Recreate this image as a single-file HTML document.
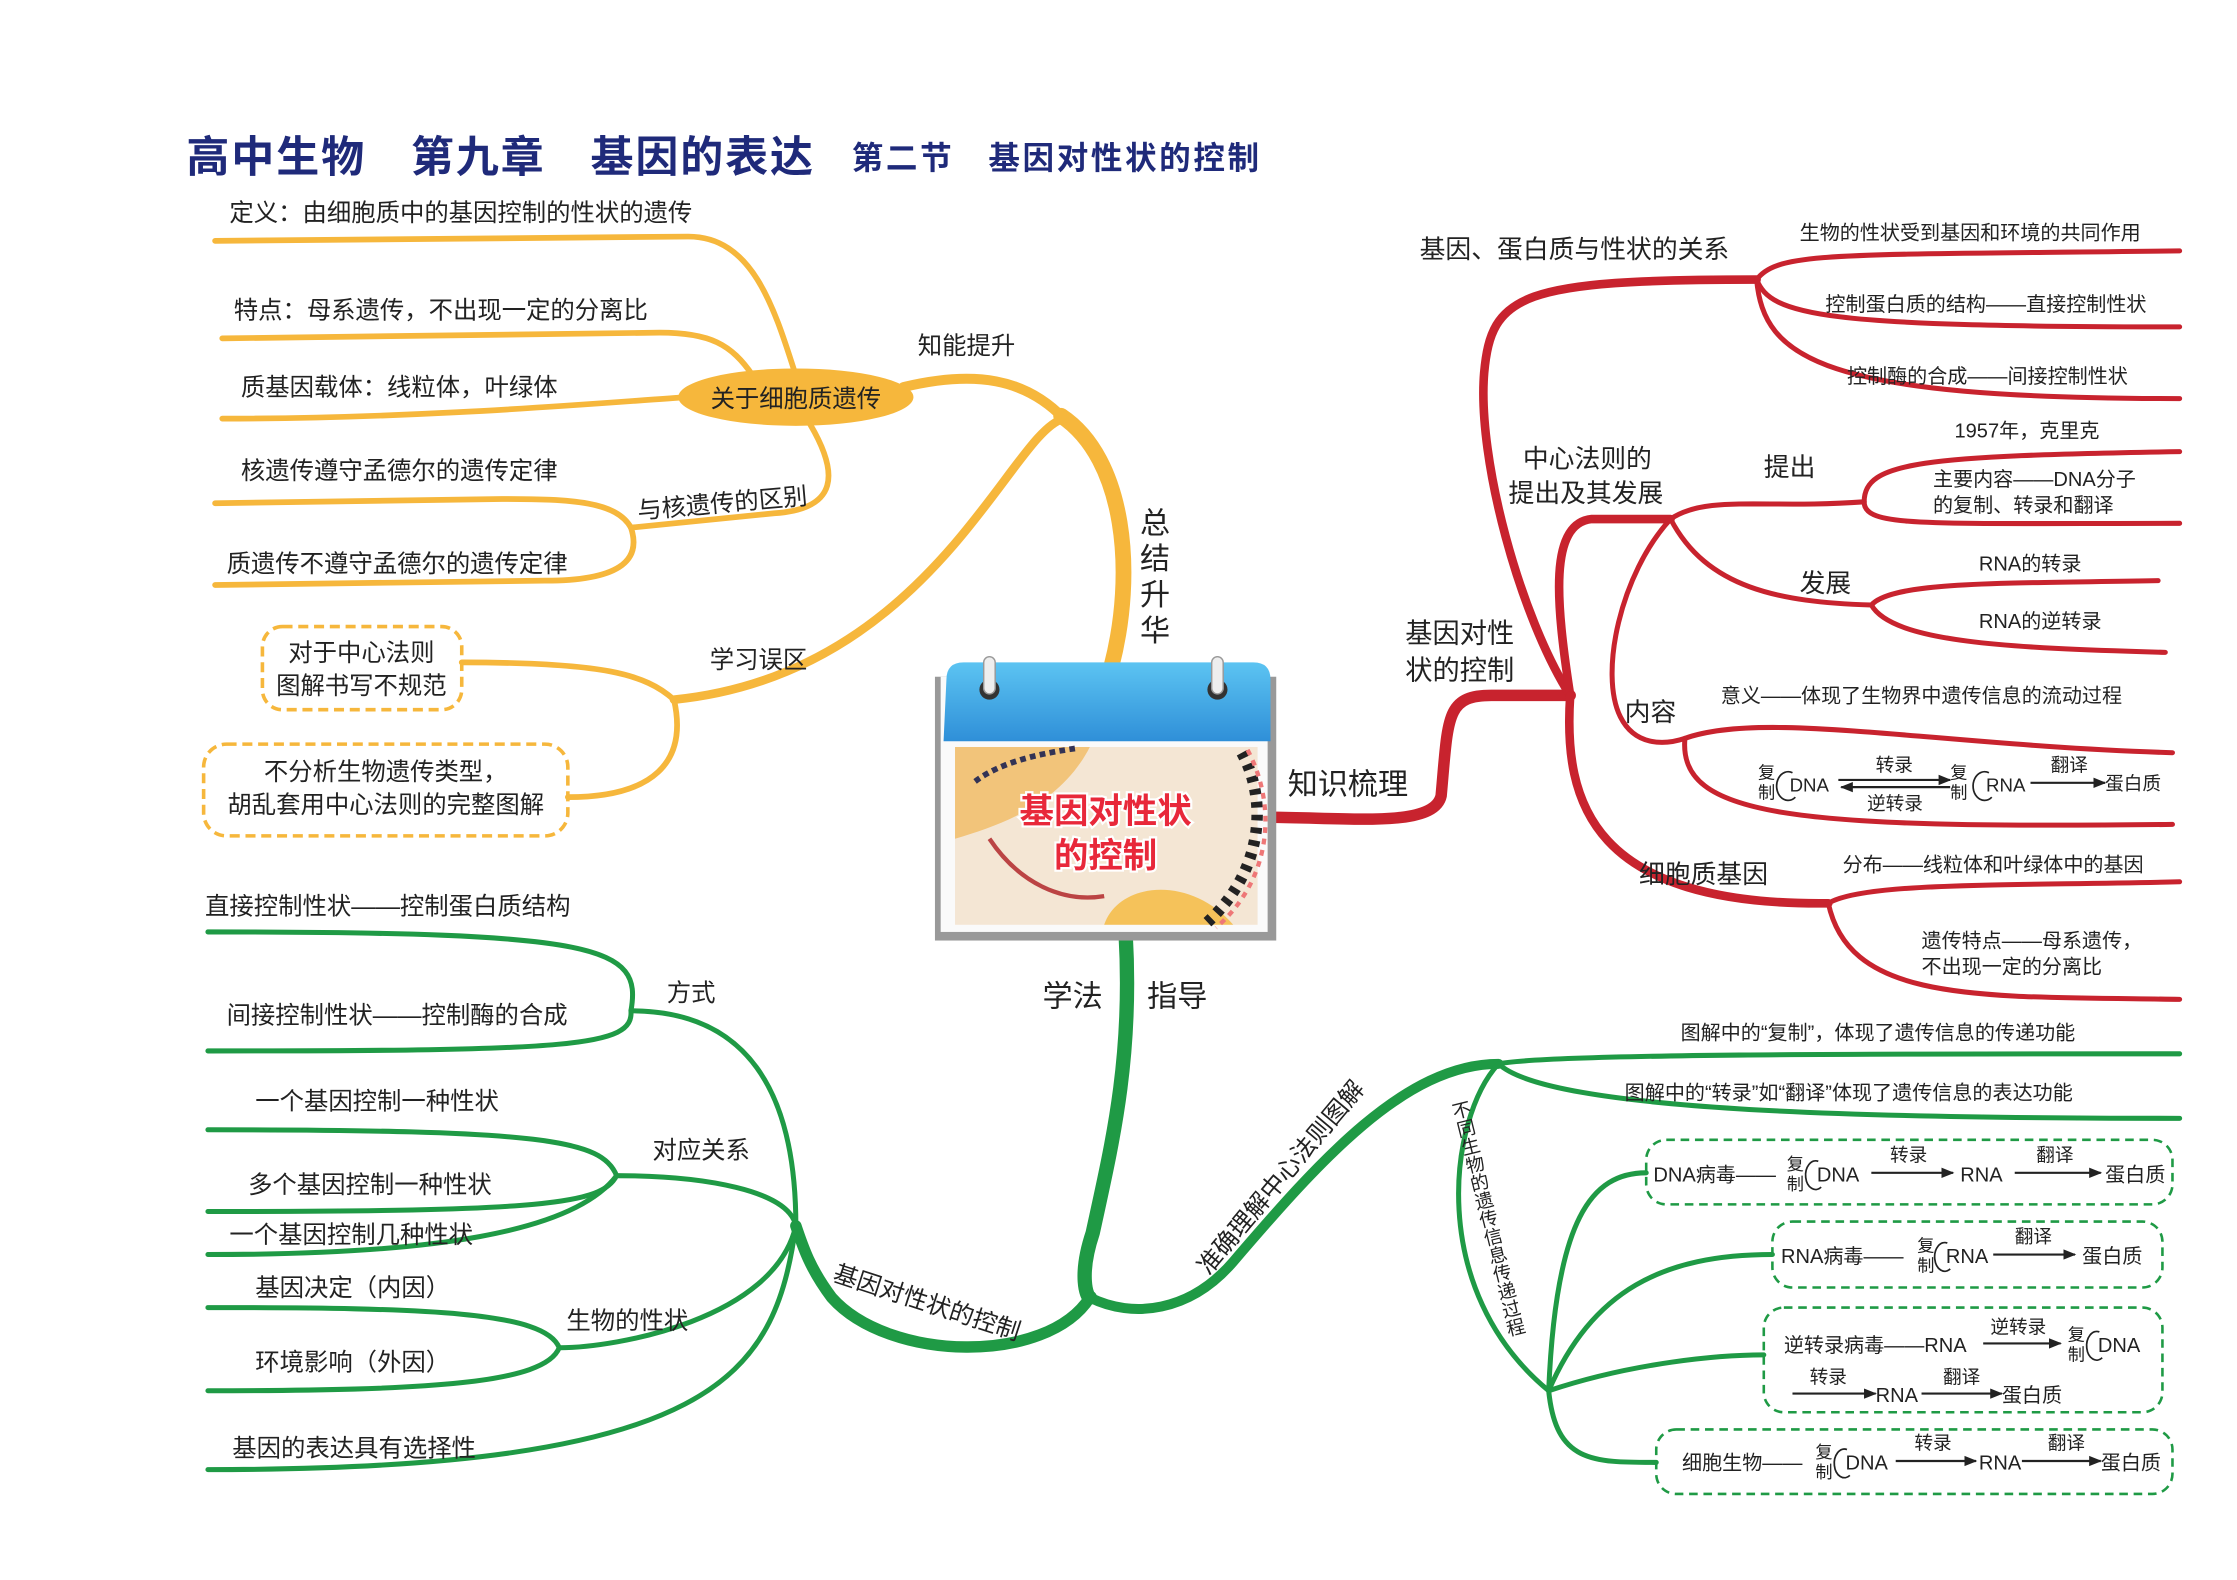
<!DOCTYPE html>
<html><head><meta charset="utf-8"><style>
html,body{margin:0;padding:0;background:#fff;}
svg{display:block}
text{font-family:"Liberation Sans","Noto Sans CJK SC",sans-serif;fill:#222;}
.t{font-size:17px}
.r{font-size:14px}
.s{font-size:12px}
.b{font-size:19px}
</style></head><body>
<svg width="2237" height="1580" viewBox="0 0 1560 1102" preserveAspectRatio="none" xmlns="http://www.w3.org/2000/svg">
<defs>
<marker id="ar" viewBox="0 0 10 10" refX="9" refY="5" markerWidth="6" markerHeight="6" orient="auto"><path d="M0,1 L10,5 L0,9 z" fill="#222"/></marker>
<linearGradient id="blue" x1="0" y1="0" x2="0" y2="1"><stop offset="0" stop-color="#5cc4f2"/><stop offset="1" stop-color="#2f8fd8"/></linearGradient>
</defs>
<rect width="1560" height="1102" fill="#fff"/>

<!-- Title -->
<text x="130" y="120" textLength="437" lengthAdjust="spacing" style="font-size:30px;font-weight:bold;fill:#1f2a7a">高中生物　第九章　基因的表达</text>
<text x="594" y="118" textLength="284" lengthAdjust="spacing" style="font-size:22px;font-weight:bold;fill:#1f2a7a">第二节　基因对性状的控制</text>

<!-- ORANGE -->
<g fill="none" stroke="#f6b73c" stroke-linecap="round">
<path d="M775,465 C792,400 785,320 740,290" stroke-width="11"/>
<path d="M742,292 C715,264 680,258 630,270" stroke-width="7"/>
<path d="M742,292 C705,300 650,470 470,488" stroke-width="6"/>
<path d="M555,262 C540,215 525,165 480,165 L150,168" stroke-width="4"/>
<path d="M525,262 C510,240 495,232 460,232 L155,236" stroke-width="4"/>
<path d="M480,277 C430,280 300,292 155,292" stroke-width="4"/>
<path d="M565,296 C585,330 585,355 540,358 L440,368" stroke-width="4"/>
<path d="M440,368 C430,350 400,348 350,348 L150,351" stroke-width="4"/>
<path d="M440,368 C448,392 430,405 380,405 L150,408" stroke-width="4"/>
<path d="M470,488 C450,470 420,462 322,462" stroke-width="4"/>
<path d="M470,488 C480,532 455,556 396,556" stroke-width="4"/>
</g>
<ellipse cx="555" cy="277" rx="82" ry="20" fill="#f6b73c"/>
<text x="555" y="284" class="t" text-anchor="middle">关于细胞质遗传</text>
<text x="640" y="247" class="t">知能提升</text>
<g class="b" style="font-size:21px"><text x="795" y="372">总</text><text x="795" y="397">结</text><text x="795" y="422">升</text><text x="795" y="447">华</text></g>
<text x="160" y="154" class="t">定义：由细胞质中的基因控制的性状的遗传</text>
<text x="163" y="222" class="t">特点：母系遗传，不出现一定的分离比</text>
<text x="168" y="276" class="t">质基因载体：线粒体，叶绿体</text>
<text x="168" y="334" class="t">核遗传遵守孟德尔的遗传定律</text>
<text x="158" y="399" class="t">质遗传不遵守孟德尔的遗传定律</text>
<text x="445" y="362" class="t" transform="rotate(-5 445 362)">与核遗传的区别</text>
<text x="495" y="466" class="t">学习误区</text>
<rect x="183" y="437" width="139" height="58" rx="14" fill="none" stroke="#f6b73c" stroke-width="2.5" stroke-dasharray="7,4"/>
<text x="252" y="461" class="t" text-anchor="middle">对于中心法则</text>
<text x="252" y="484" class="t" text-anchor="middle">图解书写不规范</text>
<rect x="142" y="519" width="254" height="64" rx="16" fill="none" stroke="#f6b73c" stroke-width="2.5" stroke-dasharray="7,4"/>
<text x="269" y="544" class="t" text-anchor="middle">不分析生物遗传类型，</text>
<text x="269" y="567" class="t" text-anchor="middle">胡乱套用中心法则的完整图解</text>

<!-- RED -->
<g fill="none" stroke="#c8232e" stroke-linecap="round">
<path d="M880,570 C940,570 1000,578 1005,555 C1010,500 1008,485 1040,485 L1095,485" stroke-width="8"/>
<path d="M1095,485 C1060,430 1030,320 1035,260 C1040,205 1060,195 1225,195" stroke-width="6"/>
<path d="M1095,485 C1085,420 1080,365 1110,362 L1165,362" stroke-width="6"/>
<path d="M1095,485 C1090,560 1110,632 1275,630" stroke-width="6"/>
<g stroke-width="3.5">
<path d="M1225,195 C1240,175 1280,178 1520,175"/>
<path d="M1225,195 C1235,220 1270,228 1520,228"/>
<path d="M1225,195 C1230,250 1270,278 1520,278"/>
<path d="M1165,362 C1190,345 1230,355 1300,350"/>
<path d="M1300,350 C1300,322 1340,318 1520,315"/>
<path d="M1300,350 C1300,368 1340,365 1520,365"/>
<path d="M1165,362 C1190,410 1240,420 1305,422"/>
<path d="M1305,422 C1320,405 1400,407 1505,405"/>
<path d="M1305,422 C1320,448 1400,452 1510,455"/>
<path d="M1165,362 C1130,400 1115,470 1130,500 C1140,520 1160,520 1175,515"/>
<path d="M1175,515 C1230,495 1350,520 1515,525"/>
<path d="M1175,515 C1170,570 1250,578 1515,575"/>
<path d="M1275,630 C1300,615 1400,618 1520,615"/>
<path d="M1275,630 C1290,700 1380,695 1520,697"/>
</g>
</g>
<text x="898" y="554" style="font-size:21px">知识梳理</text>
<text x="980" y="448" class="b">基因对性</text>
<text x="980" y="474" class="b">状的控制</text>
<text x="990" y="180" class="b" style="font-size:18px">基因、蛋白质与性状的关系</text>
<text x="1255" y="167" class="r">生物的性状受到基因和环境的共同作用</text>
<text x="1273" y="217" class="r">控制蛋白质的结构——直接控制性状</text>
<text x="1288" y="267" class="r">控制酶的合成——间接控制性状</text>
<text x="1062" y="326" class="b" style="font-size:18px">中心法则的</text>
<text x="1052" y="350" class="b" style="font-size:18px">提出及其发展</text>
<text x="1230" y="332" class="b" style="font-size:18px">提出</text>
<text x="1363" y="305" class="r">1957年，克里克</text>
<text x="1348" y="339" class="r">主要内容——DNA分子</text>
<text x="1348" y="357" class="r">的复制、转录和翻译</text>
<text x="1255" y="413" class="b" style="font-size:18px">发展</text>
<text x="1380" y="398" class="r">RNA的转录</text>
<text x="1380" y="438" class="r">RNA的逆转录</text>
<text x="1133" y="503" class="b" style="font-size:18px">内容</text>
<text x="1200" y="490" class="r">意义——体现了生物界中遗传信息的流动过程</text>
<!-- red inline formula -->
<text x="1226" y="543" class="s">复</text><text x="1226" y="557" class="s">制</text>
<path d="M1250,539 A8,10 0 1 0 1252,556" fill="none" stroke="#222" stroke-width="1.2"/>
<text x="1248" y="552" class="s" style="font-size:13px">DNA</text>
<line x1="1282" y1="544" x2="1360" y2="544" stroke="#222" stroke-width="1.5" marker-end="url(#ar)"/>
<line x1="1360" y1="549" x2="1284" y2="549" stroke="#222" stroke-width="1.5" marker-end="url(#ar)"/>
<text x="1308" y="538" class="s" style="font-size:13px">转录</text>
<text x="1302" y="565" class="s" style="font-size:13px">逆转录</text>
<text x="1360" y="543" class="s">复</text><text x="1360" y="557" class="s">制</text>
<path d="M1387,539 A8,10 0 1 0 1389,556" fill="none" stroke="#222" stroke-width="1.2"/>
<text x="1385" y="552" class="s" style="font-size:13px">RNA</text>
<line x1="1416" y1="546" x2="1468" y2="546" stroke="#222" stroke-width="1.5" marker-end="url(#ar)"/>
<text x="1430" y="538" class="s" style="font-size:13px">翻译</text>
<text x="1468" y="551" class="s" style="font-size:13px">蛋白质</text>
<text x="1143" y="616" class="b" style="font-size:18px">细胞质基因</text>
<text x="1285" y="608" class="r">分布——线粒体和叶绿体中的基因</text>
<text x="1340" y="661" class="r">遗传特点——母系遗传，</text>
<text x="1340" y="679" class="r">不出现一定的分离比</text>

<!-- GREEN -->
<g fill="none" stroke="#1f9a45" stroke-linecap="round">
<path d="M785,652 C790,740 775,800 762,860 C752,890 758,905 760,905" stroke-width="10"/>
<path d="M760,905 C730,952 620,950 580,905 C565,885 560,870 555,855" stroke-width="8"/>
<path d="M760,905 C790,920 830,915 860,880 C920,810 980,742 1045,742" stroke-width="7"/>
<g stroke-width="3.5">
<path d="M555,855 C555,760 520,705 440,705"/>
<path d="M440,705 C448,660 420,650 145,650"/>
<path d="M440,705 C442,730 400,733 145,733"/>
<path d="M555,855 C550,830 490,820 430,820"/>
<path d="M430,820 C420,795 380,788 145,788"/>
<path d="M430,820 C420,840 380,845 145,845"/>
<path d="M430,820 C400,860 300,875 145,875"/>
<path d="M555,855 C540,920 430,940 390,940"/>
<path d="M390,940 C380,915 300,912 145,912"/>
<path d="M390,940 C380,965 300,970 145,970"/>
<path d="M555,855 C540,960 500,1025 145,1025"/>
<path d="M1045,742 C1080,735 1300,735 1520,735"/>
<path d="M1045,742 C1080,775 1300,780 1520,780"/>
<path d="M1045,742 C1010,780 995,900 1080,970"/>
<path d="M1080,970 C1085,850 1110,818 1148,818"/>
<path d="M1080,970 C1110,900 1160,875 1236,875"/>
<path d="M1080,970 C1140,950 1200,945 1230,945"/>
<path d="M1080,970 C1085,1020 1110,1020 1155,1020"/>
</g>
</g>
<text x="727" y="702" style="font-size:21px">学法</text>
<text x="800" y="702" style="font-size:21px">指导</text>
<text x="580" y="893" class="t" transform="rotate(18 580 893)">基因对性状的控制</text>
<text x="843" y="890" class="t" transform="rotate(-50 843 890)">准确理解中心法则图解</text>
<text x="1017" y="768" class="s" style="font-size:13px;writing-mode:tb" transform="rotate(-14 1017 768)">不同生物的遗传信息传递过程</text>
<text x="143" y="638" class="t">直接控制性状——控制蛋白质结构</text>
<text x="158" y="714" class="t">间接控制性状——控制酶的合成</text>
<text x="465" y="698" class="t">方式</text>
<text x="178" y="774" class="t">一个基因控制一种性状</text>
<text x="173" y="832" class="t">多个基因控制一种性状</text>
<text x="160" y="867" class="t">一个基因控制几种性状</text>
<text x="455" y="808" class="t">对应关系</text>
<text x="178" y="904" class="t">基因决定（内因）</text>
<text x="178" y="956" class="t">环境影响（外因）</text>
<text x="395" y="927" class="t">生物的性状</text>
<text x="162" y="1016" class="t">基因的表达具有选择性</text>
<text x="1172" y="725" class="r">图解中的“复制”，体现了遗传信息的传递功能</text>
<text x="1133" y="767" class="r">图解中的“转录”如“翻译”体现了遗传信息的表达功能</text>

<g fill="none" stroke="#1f9a45" stroke-width="1.8" stroke-dasharray="6,4">
<rect x="1148" y="795" width="367" height="45" rx="14"/>
<rect x="1236" y="852" width="272" height="46" rx="14"/>
<rect x="1230" y="912" width="278" height="73" rx="14"/>
<rect x="1155" y="997" width="360" height="45" rx="14"/>
</g>
<g class="r" style="font-size:14px">
<text x="1153" y="824">DNA病毒——</text>
<text x="1246" y="816" class="s">复</text><text x="1246" y="830" class="s">制</text>
<path d="M1268,810 A7,10 0 1 0 1270,828" fill="none" stroke="#222" stroke-width="1.2"/>
<text x="1267" y="824">DNA</text>
<line x1="1305" y1="818" x2="1362" y2="818" stroke="#222" stroke-width="1.5" marker-end="url(#ar)"/>
<text x="1318" y="810" class="s" style="font-size:13px">转录</text>
<text x="1367" y="824">RNA</text>
<line x1="1405" y1="818" x2="1465" y2="818" stroke="#222" stroke-width="1.5" marker-end="url(#ar)"/>
<text x="1420" y="810" class="s" style="font-size:13px">翻译</text>
<text x="1468" y="824">蛋白质</text>

<text x="1242" y="881">RNA病毒——</text>
<text x="1337" y="873" class="s">复</text><text x="1337" y="887" class="s">制</text>
<path d="M1358,867 A7,10 0 1 0 1360,885" fill="none" stroke="#222" stroke-width="1.2"/>
<text x="1357" y="881">RNA</text>
<line x1="1390" y1="875" x2="1447" y2="875" stroke="#222" stroke-width="1.5" marker-end="url(#ar)"/>
<text x="1405" y="867" class="s" style="font-size:13px">翻译</text>
<text x="1452" y="881">蛋白质</text>

<text x="1244" y="943">逆转录病毒——RNA</text>
<line x1="1383" y1="937" x2="1437" y2="937" stroke="#222" stroke-width="1.5" marker-end="url(#ar)"/>
<text x="1388" y="930" class="s" style="font-size:13px">逆转录</text>
<text x="1442" y="935" class="s">复</text><text x="1442" y="949" class="s">制</text>
<path d="M1464,929 A7,10 0 1 0 1466,947" fill="none" stroke="#222" stroke-width="1.2"/>
<text x="1463" y="943">DNA</text>
<line x1="1250" y1="972" x2="1308" y2="972" stroke="#222" stroke-width="1.5" marker-end="url(#ar)"/>
<text x="1262" y="965" class="s" style="font-size:13px">转录</text>
<text x="1308" y="978">RNA</text>
<line x1="1340" y1="972" x2="1396" y2="972" stroke="#222" stroke-width="1.5" marker-end="url(#ar)"/>
<text x="1355" y="965" class="s" style="font-size:13px">翻译</text>
<text x="1396" y="978">蛋白质</text>

<text x="1173" y="1025">细胞生物——</text>
<text x="1266" y="1017" class="s">复</text><text x="1266" y="1031" class="s">制</text>
<path d="M1288,1011 A7,10 0 1 0 1290,1029" fill="none" stroke="#222" stroke-width="1.2"/>
<text x="1287" y="1025">DNA</text>
<line x1="1322" y1="1019" x2="1378" y2="1019" stroke="#222" stroke-width="1.5" marker-end="url(#ar)"/>
<text x="1335" y="1011" class="s" style="font-size:13px">转录</text>
<text x="1380" y="1025">RNA</text>
<line x1="1410" y1="1019" x2="1465" y2="1019" stroke="#222" stroke-width="1.5" marker-end="url(#ar)"/>
<text x="1428" y="1011" class="s" style="font-size:13px">翻译</text>
<text x="1465" y="1025">蛋白质</text>
</g>

<!-- Calendar -->
<rect x="652" y="472" width="238" height="184" fill="#999"/>
<rect x="656" y="472" width="228" height="178" fill="#fafafa"/>
<path d="M660,474 Q660,462 672,462 L874,462 Q886,462 886,474 L886,517 L658,517 Z" fill="url(#blue)"/>
<rect x="666" y="521" width="211" height="124" fill="#f4e6d4"/>
<path d="M666,521 L760,521 C740,560 700,575 666,585 Z" fill="#f2c47a"/>
<path d="M770,645 C780,615 830,610 860,645 Z" fill="#f5c25a"/>
<path d="M866,525 C885,560 880,610 840,645" fill="none" stroke="#222" stroke-width="8" stroke-dasharray="4,5"/>
<path d="M870,523 C892,565 885,615 848,647" fill="none" stroke="#e77" stroke-width="3" stroke-dasharray="4,4"/>
<path d="M680,545 C700,530 730,525 750,522" fill="none" stroke="#335" stroke-width="4" stroke-dasharray="4,3"/>
<path d="M690,585 C710,615 740,630 770,625" fill="none" stroke="#b44" stroke-width="3"/>
<circle cx="690" cy="481" r="7" fill="#333"/><rect x="686" y="458" width="8" height="26" rx="4" fill="#eee" stroke="#999"/>
<circle cx="849" cy="481" r="7" fill="#333"/><rect x="845" y="458" width="8" height="26" rx="4" fill="#eee" stroke="#999"/>
<text x="771" y="574" text-anchor="middle" style="font-size:24px;font-weight:bold;fill:#e8283a;stroke:#fff;stroke-width:3;paint-order:stroke">基因对性状</text>
<text x="771" y="605" text-anchor="middle" style="font-size:24px;font-weight:bold;fill:#e8283a;stroke:#fff;stroke-width:3;paint-order:stroke">的控制</text>
</svg>
</body></html>
